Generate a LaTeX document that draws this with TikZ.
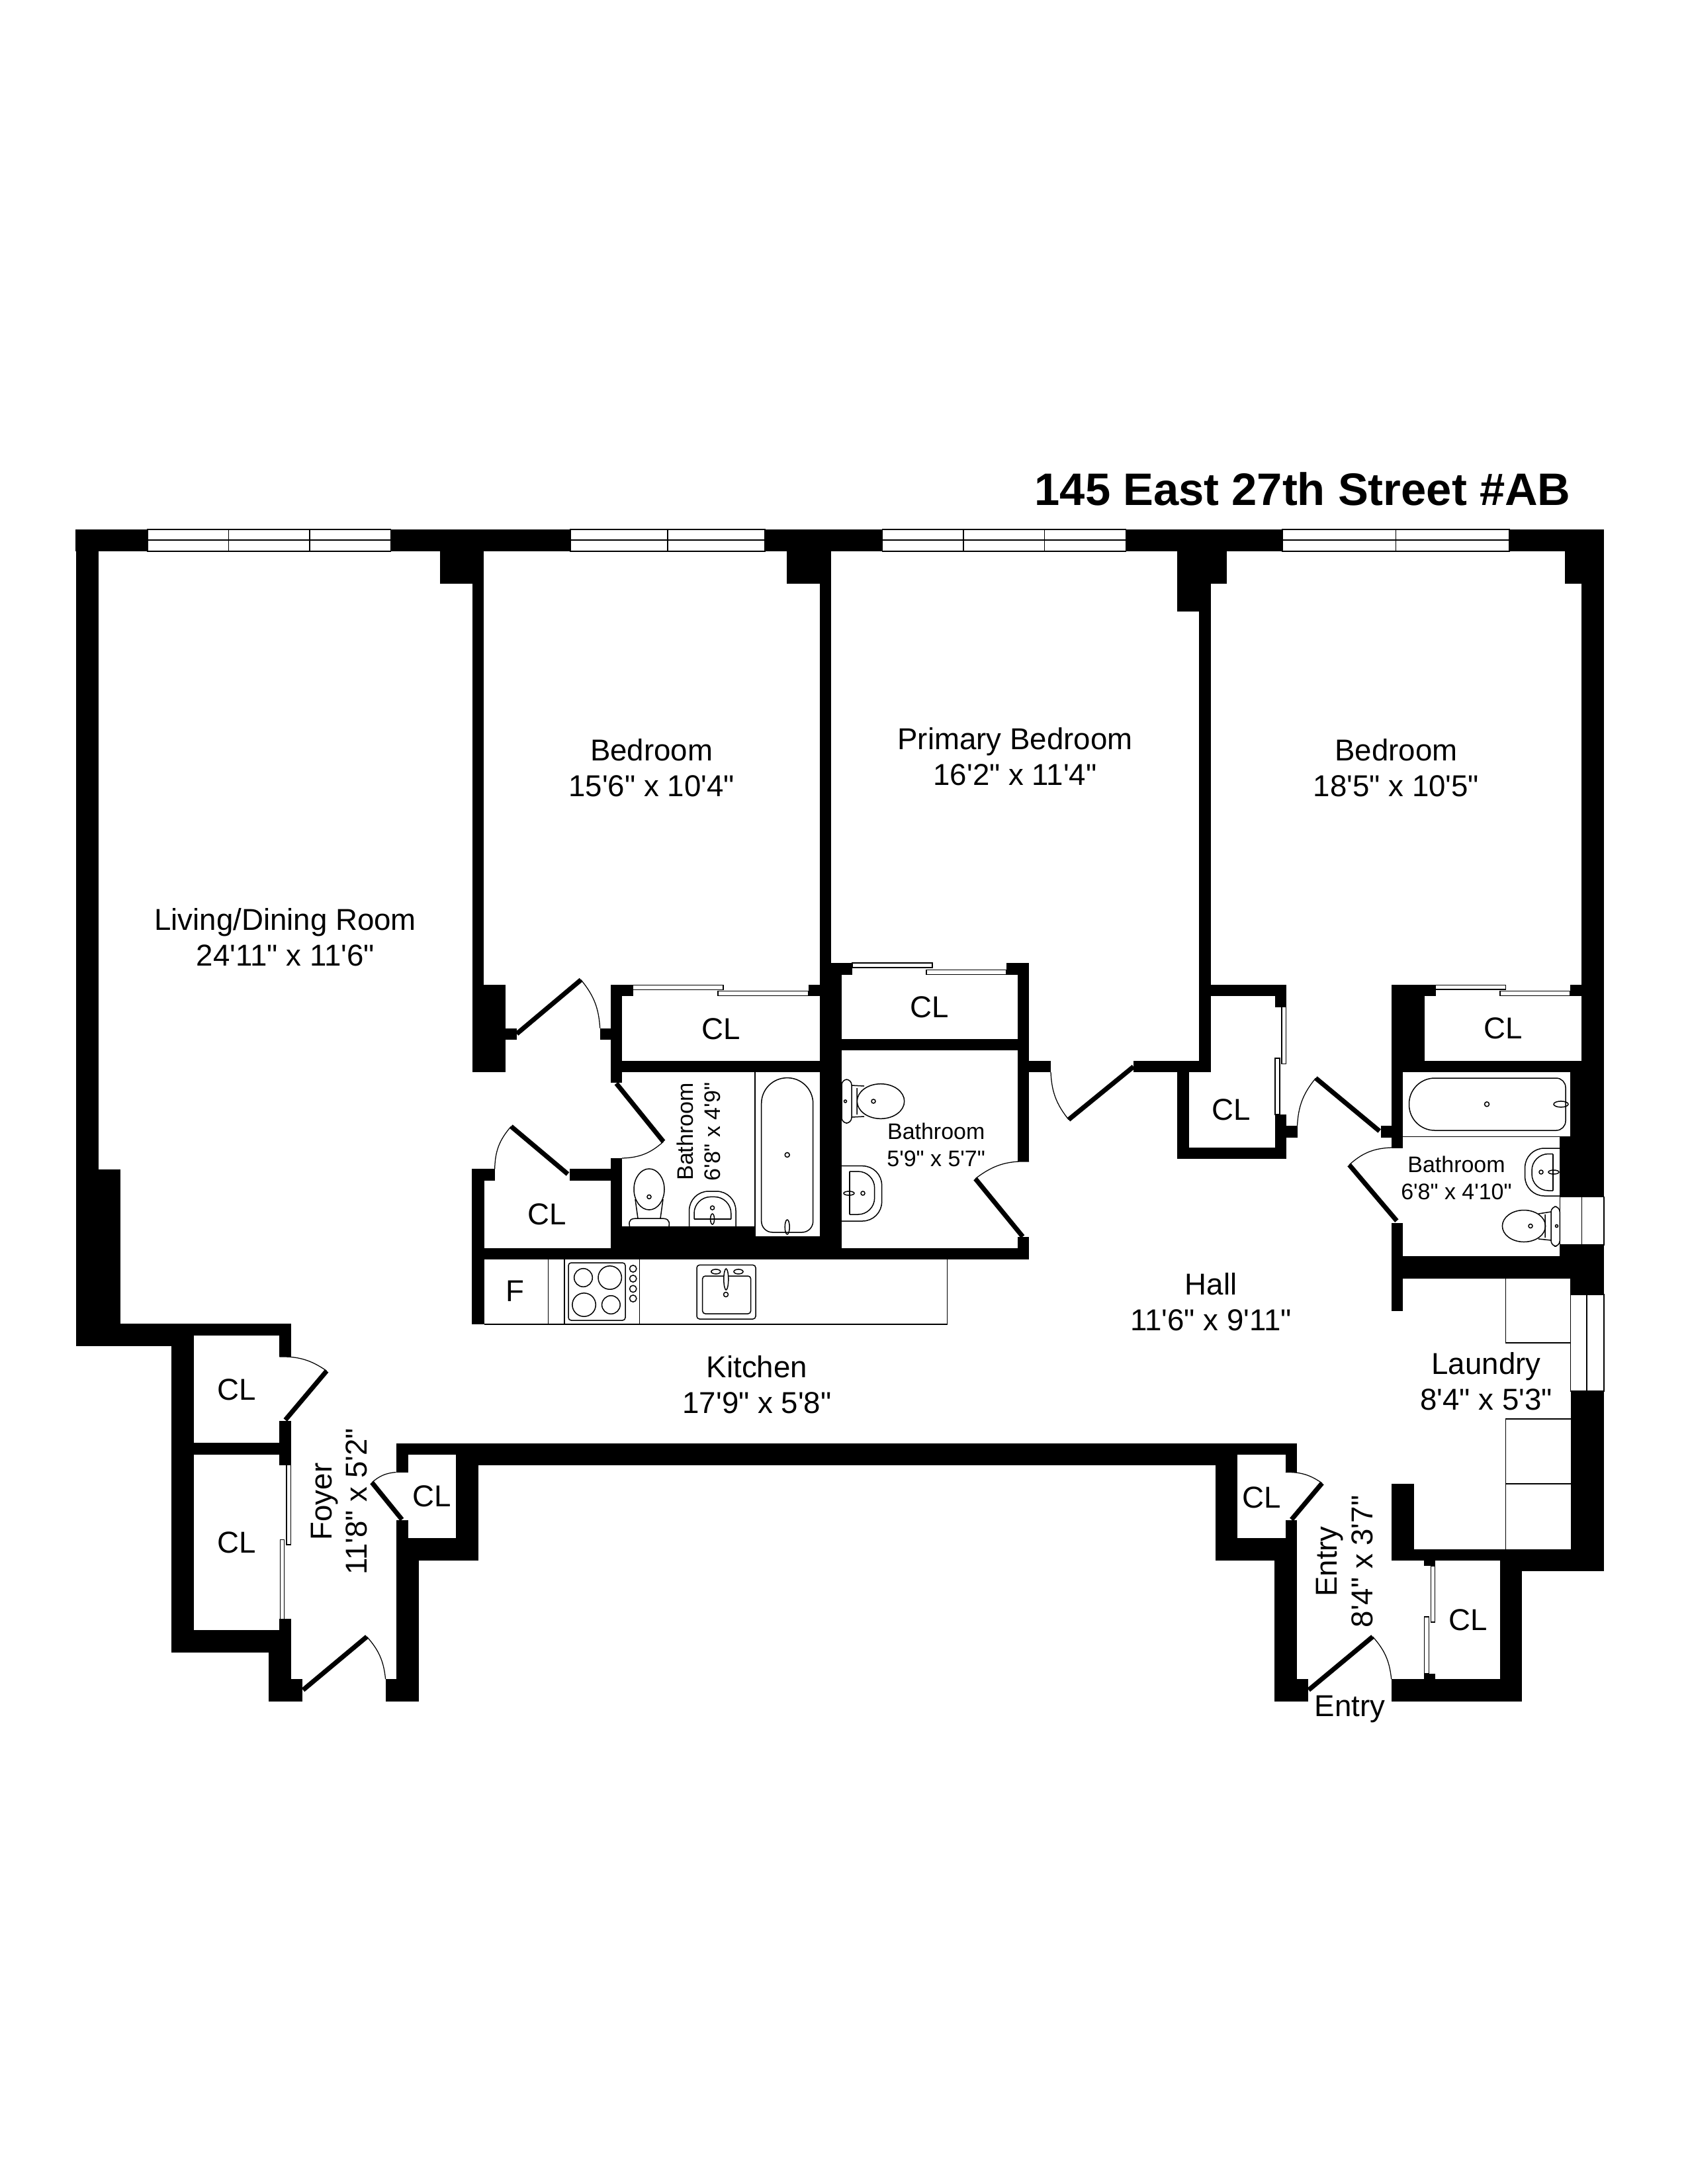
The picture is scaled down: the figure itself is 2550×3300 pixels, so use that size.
\documentclass[tikz,border=0pt]{standalone}
\usepackage{fontspec}
\setmainfont{Liberation Sans}[Ligatures=TeXOff]
\tikzset{
    wall/.style={fill=black},
    thinline/.style={draw=black, line width=.36pt},
    slider/.style={draw=black, fill=white, line width=.3pt},
    leaf/.style={draw=black, line width=1.7pt},
    swing/.style={draw=black, line width=.3pt},
    roomlabel/.style={font=\fontsize{10.95}{12.9}\selectfont, align=center, inner sep=0pt},
    bathlabel/.style={font=\fontsize{8.15}{9.9}\selectfont, align=center, inner sep=0pt},
}
\begin{document}
\begin{tikzpicture}[x=.24pt, y=-.24pt]
    \useasboundingbox (0,0) rectangle (2550,3300);

    % outer top wall and windows
    \foreach \xa/\xb in {114/223, 590.5/862, 1156/1333.4, 1701.5/1938, 2281/2424}
        \fill[wall] (\xa,800) rectangle (\xb,833);
    \foreach \xa/\xb in {223/345.6, 345.6/468, 468/590.5, 862/1009, 1009/1156, 1333.4/1455.9, 1455.9/1578.3, 1578.3/1701.5, 1938/2109.4, 2109.4/2281}
        \draw[thinline] (\xa,800) rectangle (\xb,833) (\xa,816)--(\xb,816);
    \draw[thinline] (2357.3,1808.5) rectangle (2424,1881) (2390.7,1808.5)--(2390.7,1881);
    \draw[thinline] (2373.6,1956) rectangle (2424,2102) (2398,1956)--(2398,2102);

    % walls, left part
    \fill[wall] (114.5,800) rectangle (149,2034);
    \fill[wall] (114.5,1767) rectangle (182,2034);
    \fill[wall] (664.7,833) rectangle (731,882);
    \fill[wall] (713.7,833) rectangle (731,1620);
    \fill[wall] (713.7,1488) rectangle (764,1620);
    \fill[wall] (764,1553.6) rectangle (781,1571);
    \fill[wall] (906.7,1553.6) rectangle (923,1571);
    \fill[wall] (923,1488) rectangle (940,1636);
    \fill[wall] (923,1488) rectangle (956.7,1505);
    \fill[wall] (1222,1488) rectangle (1238.5,1505);
    \fill[wall] (923,1603) rectangle (1238.5,1620);
    \fill[wall] (1189,833) rectangle (1255.7,882);
    \fill[wall] (1238.5,833) rectangle (1255.7,1886);
    \fill[wall] (1238.5,1455) rectangle (1272,1902.6);
    \fill[wall] (1255,1455) rectangle (1288,1473);
    \fill[wall] (1521,1455) rectangle (1555,1473);
    \fill[wall] (1537.5,1455) rectangle (1555,1755);
    \fill[wall] (1272,1570) rectangle (1537.5,1587);
    \fill[wall] (1537.5,1868.5) rectangle (1555,1902.6);
    \fill[wall] (713,1886) rectangle (1555,1902.6);
    \fill[wall] (1555,1602.5) rectangle (1588,1620.4);
    \fill[wall] (713,1766) rectangle (731.7,2001);
    \fill[wall] (713,1766) rectangle (747.7,1784);
    \fill[wall] (861.4,1766) rectangle (923,1784);
    \fill[wall] (923,1750) rectangle (940,1886);
    \fill[wall] (940,1853) rectangle (1141,1886);
    \fill[wall] (1141,1868.5) rectangle (1238.5,1886);

    % walls, right part
    \fill[wall] (1779,833) rectangle (1812,923.6);
    \fill[wall] (1811.7,833) rectangle (1829.5,1620.4);
    \fill[wall] (1829,833) rectangle (1854,882.4);
    \fill[wall] (1713,1602.5) rectangle (1829.5,1620.4);
    \fill[wall] (1829.5,1488) rectangle (1944,1505);
    \fill[wall] (1927,1505) rectangle (1944,1521.7);
    \fill[wall] (1778.7,1620) rectangle (1797,1750.5);
    \fill[wall] (1778.7,1734) rectangle (1944,1750.5);
    \fill[wall] (1927,1684) rectangle (1944,1750.5);
    \fill[wall] (1944,1700.8) rectangle (1960.5,1718.6);
    \fill[wall] (2086.5,1700.8) rectangle (2120,1718.6);
    \fill[wall] (2103,1488) rectangle (2120,1735);
    \fill[wall] (2103,1488) rectangle (2153,1602.5);
    \fill[wall] (2103,1488) rectangle (2169.5,1505);
    \fill[wall] (2373,1488) rectangle (2389.5,1505);
    \fill[wall] (2103,1602.5) rectangle (2389.5,1620.4);
    \fill[wall] (2389.5,800) rectangle (2424,1808.5);
    \fill[wall] (2365,833) rectangle (2389.5,882);
    \fill[wall] (2373,1620) rectangle (2424,1717.4);
    \fill[wall] (2357.3,1717.4) rectangle (2424,1808.5);
    \fill[wall] (2357.3,1881) rectangle (2424,1932);
    \fill[wall] (2120,1897.7) rectangle (2373,1932);
    \fill[wall] (2373,1881) rectangle (2424,1956);
    \fill[wall] (2103,1848) rectangle (2120,1980.6);
    \fill[wall] (2373.6,2102) rectangle (2424,2374);
    \fill[wall] (2102.7,2340.6) rectangle (2373.6,2357.6);
    \fill[wall] (2267,2340.6) rectangle (2424,2374);
    \fill[wall] (2102.7,2242) rectangle (2137,2357.6);
    \fill[wall] (2152,2357.6) rectangle (2169,2366);
    \fill[wall] (2152,2528.5) rectangle (2169,2537);
    \fill[wall] (2267,2357) rectangle (2300.4,2570.5);
    \fill[wall] (2102.7,2537) rectangle (2300.4,2570.5);

    % long wall, entry and foyer
    \fill[wall] (598.6,2181) rectangle (1959.8,2198);
    \fill[wall] (688.8,2181) rectangle (1870,2214);
    \fill[wall] (688.8,2181) rectangle (723.2,2357.6);
    \fill[wall] (598.6,2324) rectangle (723.2,2357.6);
    \fill[wall] (598.6,2181) rectangle (616.5,2224.5);
    \fill[wall] (598.6,2297) rectangle (616.5,2357.6);
    \fill[wall] (598.6,2324) rectangle (632.6,2570.5);
    \fill[wall] (582.6,2537) rectangle (632.6,2570.5);
    \fill[wall] (1836.6,2181) rectangle (1870,2357.6);
    \fill[wall] (1836.6,2324) rectangle (1959.8,2357.6);
    \fill[wall] (1942.8,2181) rectangle (1959.8,2224.5);
    \fill[wall] (1942.8,2297) rectangle (1959.8,2357.6);
    \fill[wall] (1926.3,2340.6) rectangle (1959.8,2570.5);
    \fill[wall] (1926.3,2537) rectangle (1976.8,2570.5);
    \fill[wall] (182,2000) rectangle (440,2018);
    \fill[wall] (114.5,2000) rectangle (258.5,2034);
    \fill[wall] (258.5,2000) rectangle (292.8,2496.8);
    \fill[wall] (292.8,2180) rectangle (422.3,2198);
    \fill[wall] (422.3,2000) rectangle (440,2050);
    \fill[wall] (422.3,2147.3) rectangle (440,2213.8);
    \fill[wall] (422.3,2446.4) rectangle (440,2570.5);
    \fill[wall] (258.5,2463) rectangle (440,2496.8);
    \fill[wall] (405.8,2463) rectangle (440,2570.5);
    \fill[wall] (405.8,2537) rectangle (457,2570.5);

    % doors
    \draw[leaf] (781,1562)--(878,1480.5);
    \draw[swing] (878,1480.5) to[bend left=18] (906.7,1553.6);
    \draw[leaf] (931.4,1637)--(1002.6,1725);
    \draw[swing] (1002.6,1725) to[bend left=20] (940,1750);
    \draw[leaf] (858,1774)--(772.4,1702);
    \draw[swing] (772.4,1702) to[bend right=20] (747.7,1766);
    \draw[leaf] (1545.6,1868.5)--(1474,1781);
    \draw[swing] (1474,1781) to[bend left=20] (1555,1755);
    \draw[leaf] (1713,1611.7)--(1615,1691.7);
    \draw[swing] (1615,1691.7) to[bend left=18] (1588,1620);
    \draw[leaf] (2084.7,1709)--(1988.4,1629);
    \draw[swing] (1988.4,1629) to[bend right=18] (1960.5,1700.8);
    \draw[leaf] (2110.8,1844.6)--(2039,1760);
    \draw[swing] (2039,1760) to[bend left=20] (2103,1734);
    \draw[leaf] (431.2,2145.5)--(493.7,2071.4);
    \draw[swing] (493.7,2071.4) to[bend right=18] (422.3,2050);
    \draw[leaf] (458,2553.5)--(554.4,2473);
    \draw[swing] (554.4,2473) to[bend left=18] (582.6,2537);
    \draw[leaf] (607.5,2296)--(562,2240);
    \draw[swing] (562,2240) to[bend left=18] (598.6,2224.5);
    \draw[leaf] (1951.8,2296)--(1998,2241);
    \draw[swing] (1998,2241) to[bend right=18] (1942.8,2224.5);
    \draw[leaf] (1977.7,2553.5)--(2074.5,2473);
    \draw[swing] (2074.5,2473) to[bend left=18] (2102.7,2537);

    % sliding closet doors
    \draw[slider] (956.7,1488.5) rectangle (1093,1495.4);
    \draw[slider] (1085,1497.7) rectangle (1222,1504.6);
    \draw[slider] (1288,1455) rectangle (1409,1462);
    \draw[slider] (1400,1465.5) rectangle (1521,1472.4);
    \draw[slider] (1937,1521.7) rectangle (1943.5,1607.5);
    \draw[slider] (1927,1599) rectangle (1934,1684);
    \draw[slider] (2169.5,1488.5) rectangle (2275.6,1495);
    \draw[slider] (2267,1497.7) rectangle (2373,1504.3);
    \draw[slider] (2162.5,2366) rectangle (2168.7,2451);
    \draw[slider] (2152.7,2443) rectangle (2159.4,2528.5);
    \draw[slider] (433,2213.8) rectangle (439.3,2334);
    \draw[slider] (423.6,2326.3) rectangle (429.4,2446.4);

    % bathroom one
    \draw[thinline] (1141,1620)--(1141,1868.5)--(1238.5,1868.5);
    \draw[thinline] [rounded corners=9.3pt] (1150.7,1745)--(1150.7,1628.6)--(1228.7,1628.6) [rounded corners=4pt] --(1228.7,1862)--(1150.7,1862)--(1150.7,1745);
    \draw[thinline] (1189.7,1745) circle (3.5);
    \draw[thinline] (1189.7,1854) ellipse [x radius=3.5, y radius=11];
    \draw[thinline] (981,1797) ellipse [x radius=23, y radius=31];
    \draw[thinline] (951.5,1853) .. controls (949,1842) and (955,1841) .. (964,1841)--(998,1841) .. controls (1007,1841) and (1013,1842) .. (1011,1853);
    \draw[thinline] (960,1812)--(964,1841) (1002,1812)--(998,1841);
    \draw[thinline] (981,1808.4) circle (3);
    \draw[thinline] [rounded corners=7pt] (1041.6,1853)--(1041.6,1800)--(1112,1800)--(1112,1853);
    \draw[thinline] [rounded corners=6pt] (1049,1842)--(1049,1808.4)--(1104.8,1808.4)--(1104.8,1842);
    \draw[thinline] (1049,1842)--(1104.8,1842);
    \draw[thinline] (1076.6,1825) circle (3);
    \draw[thinline] (1076.6,1842) ellipse [x radius=3, y radius=8];

    % bathroom two
    \draw[thinline] (1331,1664) ellipse [x radius=35.7, y radius=26.3];
    \draw[fill=white, draw=none] (1280,1640) rectangle (1295,1688);
    \draw[thinline] (1295,1644)--(1295,1684) (1287,1640)--(1306,1641) (1287,1688)--(1306,1687);
    \draw[thinline] (1320,1664) circle (3);
    \draw[thinline] (1277.5,1664) circle (2);
    \draw[thinline, rounded corners=2pt] (1272,1631) rectangle (1287,1697);
    \draw[thinline] [rounded corners=7pt] (1272,1761.7)--(1332.6,1761.7)--(1332.6,1845)--(1272,1845);
    \draw[thinline] [rounded corners=6pt] (1284,1770)--(1321.7,1770)--(1321.7,1835)--(1284,1835);
    \draw[thinline] (1284,1770)--(1284,1835);
    \draw[thinline] (1304,1803) circle (3);
    \draw[thinline] (1283,1803) ellipse [x radius=8, y radius=3];

    % bathroom three
    \draw[thinline] (2120,1717.4)--(2357.3,1717.4);
    \draw[thinline] [rounded corners=9.3pt] (2247,1629)--(2129.5,1629)--(2129.5,1708) [rounded corners=3.4pt] --(2366,1708)--(2366,1629)--(2247,1629);
    \draw[thinline] (2247,1668.4) circle (3.5);
    \draw[thinline] (2359,1668.4) ellipse [x radius=11, y radius=4.5];
    \draw[thinline] [rounded corners=7pt] (2357.3,1735)--(2304.6,1735)--(2304.6,1807)--(2357.3,1807);
    \draw[thinline] [rounded corners=6pt] (2347,1743.5)--(2315,1743.5)--(2315,1799)--(2347,1799);
    \draw[thinline] (2347,1743.5)--(2347,1799);
    \draw[thinline] (2329,1771) circle (3);
    \draw[thinline] (2348,1771) ellipse [x radius=8, y radius=3];
    \draw[thinline] (2303,1852.5) ellipse [x radius=32.6, y radius=24];
    \draw[thinline] (2335,1835)--(2335,1870) (2344,1831)--(2325,1834) (2344,1874)--(2325,1872);
    \draw[thinline, rounded corners=2pt, fill=white] (2344,1823) rectangle (2357.3,1883);
    \draw[thinline] (2313,1852.5) circle (3);
    \draw[thinline] (2352.5,1852.5) circle (2);

    % kitchen
    \draw[thinline] (731.7,2001)--(1431.4,2001)--(1431.4,1902.6);
    \foreach \xa in {828.7, 853, 966.4}
        \draw[thinline] (\xa,1902.6)--(\xa,2001);
    \draw[thinline, rounded corners=1pt] (859,1908) rectangle (945,1995);
    \foreach \xa/\ya/\ra in {881.5/1930.5/13.8, 921.7/1930.5/17.7, 882.6/1971.5/17.7, 923.4/1971.5/13.8}
        \draw[thinline] (\xa,\ya) circle (\ra);
    \foreach \ya in {1917, 1932, 1947.4, 1962}
        \draw[thinline] (956.7,\ya) circle (5.2);
    \draw[thinline, rounded corners=1pt] (1053,1911.4) rectangle (1142,1993);
    \draw[thinline, rounded corners=1pt] (1061.7,1928) rectangle (1134.6,1985);
    \draw[thinline, fill=white] (1097.3,1933) ellipse [x radius=3.5, y radius=16];
    \draw[thinline] (1097,1956) circle (3.5);
    \draw[thinline] (1081.8,1921.4) ellipse [x radius=7, y radius=3.5];
    \draw[thinline] (1116,1921.4) ellipse [x radius=7, y radius=3.5];

    % laundry
    \draw[thinline] (2275.5,1932)--(2275.5,2029)--(2373.6,2029);
    \draw[thinline] (2373.6,2144)--(2275.5,2144)--(2275.5,2340.6);
    \draw[thinline] (2275.5,2242)--(2373.6,2242);

    % labels
    \node[anchor=base, font=\bfseries\fontsize{16.5}{18}\selectfont, inner sep=0pt] (title) at (1968.6,763) {145 East 27th Street \#AB};
    \node[roomlabel] (living) at (431.3,1416) {Living/Dining Room\\24'11" x 11'6"};
    \node[roomlabel] (bedroomA) at (984.6,1160) {Bedroom\\15'6" x 10'4"};
    \node[roomlabel] (primary) at (1534,1143) {Primary Bedroom\\16'2" x 11'4"};
    \node[roomlabel] (bedroomB) at (2110,1160) {Bedroom\\18'5" x 10'5"};
    \node[roomlabel] (hall) at (1830,1967) {Hall\\11'6" x 9'11"};
    \node[roomlabel] (kitchen) at (1144,2092) {Kitchen\\17'9" x 5'8"};
    \node[roomlabel] (laundry) at (2246,2087) {Laundry\\8'4" x 5'3"};
    \node[roomlabel, rotate=90] (foyer) at (512.5,2269) {Foyer\\11'8" x 5'2"};
    \node[roomlabel, rotate=90] (entryhall) at (2032,2359.4) {Entry\\8'4" x 3'7"};
    \node[roomlabel] (entry) at (2040,2583) {Entry};
    \node[bathlabel, rotate=90] (bathA) at (1055.5,1710) {Bathroom\\6'8" x 4'9"};
    \node[bathlabel] (bathB) at (1414.7,1730) {Bathroom\\5'9" x 5'7"};
    \node[bathlabel] (bathC) at (2201,1780) {Bathroom\\6'8" x 4'10"};
    \node[roomlabel] (fridge) at (778.7,1951) {F};
    \foreach \xa/\ya/\na in {1089.5/1555/a, 1405/1521.4/b, 827/1835/c, 1861/1677/d, 2271.5/1554/e, 357.6/2099.5/f, 357.6/2330.3/g, 653/2261/h, 1907/2262.5/i, 2219/2447.7/j}
        \node[roomlabel] (cl\na) at (\xa,\ya) {CL};
\end{tikzpicture}
\end{document}
